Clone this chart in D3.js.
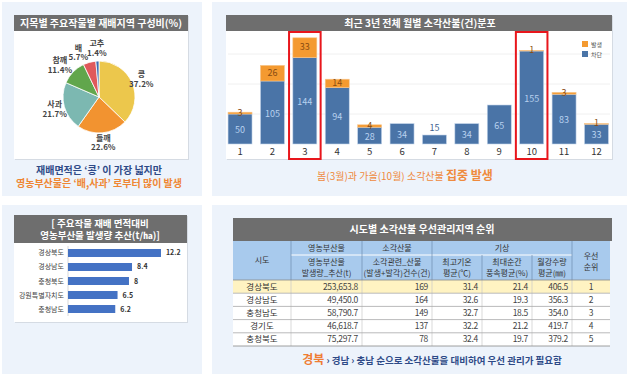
<!DOCTYPE html>
<html><head><meta charset="utf-8">
<script src="https://cdn.jsdelivr.net/npm/d3@7"></script>
<style>
body{margin:0;background:#fff;}
svg{display:block;font-family:"Noto Sans CJK KR","Noto Sans",sans-serif;}
</style></head>
<body><svg id="c" width="629" height="376"></svg>
<script>
// ---- data ----
const pieCrops = ["콩","들깨","사과","참깨","배","고추"];
const pieShares = [37.2,22.6,21.7,11.4,5.7,1.4];
const pieColors = ["#ecc74c","#f29330","#7cb8b1","#61a64c","#e0595b","#3d6db2"];

const months = ["1","2","3","4","5","6","7","8","9","10","11","12"];
const blocked = [50,105,144,94,28,34,15,34,65,155,83,33];   // 차단
const occurred = [3,26,33,14,4,0,0,0,0,1,3,1];              // 발생
const highlightMonths = ["3","10"];
const yTicks = [50,100,150];

const regions = ["경상북도","경상남도","충청북도","강원특별자치도","충청남도"];
const perArea = [12.2,8.4,8,6.5,6.2];

const tblRegions = ["경상북도","경상남도","충청남도","경기도","충청북도"];
const tblByproduct = ["253,653.8","49,450.0","58,790.7","46,618.7","75,297.7"];
const tblFires = ["169","164","149","137","78"];
const tblTemp = ["31.4","32.6","32.7","32.2","32.4"];
const tblWind = ["21.4","19.3","18.5","21.2","19.7"];
const tblRain = ["406.5","356.3","354.0","419.7","379.2"];
const tblRank = ["1","2","3","4","5"];

const svg = d3.select("#c");
const bg = "#edf3fb", bar="#6e6e6e";

// panels
[[2,2,200,194],[212,2,415,194],[2,205,200,169],[212,205,415,169]].forEach(p=>{
  svg.append("rect").attr("x",p[0]).attr("y",p[1]).attr("width",p[2]).attr("height",p[3]).attr("fill",bg);
});
function card(x,y,w,h){
  svg.append("rect").attr("x",x+1).attr("y",y+1).attr("width",w).attr("height",h).attr("fill","#d5dbe3");
  svg.append("rect").attr("x",x).attr("y",y).attr("width",w).attr("height",h).attr("fill","#fff");
}

// ===== Top-left pie =====
card(14,15,174,144);
svg.append("rect").attr("x",14).attr("y",15).attr("width",174).attr("height",16).attr("fill",bar);
svg.append("text").attr("x",101).attr("y",27).attr("text-anchor","middle").attr("fill","#fff")
  .attr("font-size",10).attr("font-weight","bold").text("지목별 주요작물별 재배지역 구성비(%)");

const pieData = d3.pie().sort(null).value(d=>d)(pieShares);
const arc = d3.arc().innerRadius(0).outerRadius(36);
const pg = svg.append("g").attr("transform","translate(99,97)");
pg.selectAll("path").data(pieData).join("path").attr("d",arc)
  .attr("fill",(d,i)=>pieColors[i]).attr("stroke","#fff").attr("stroke-width",0.8);
// label positions: outside the slice, tiny slices pushed a bit further, then simple collision pass
const labPos = pieData.map((d,i)=>{
  const r = pieShares[i] < 3 ? 49 : 46;
  const c = d3.arc().innerRadius(r).outerRadius(r).centroid(d);
  return {x:c[0], y:c[1]};
});
for(let i=labPos.length-1;i>0;i--){
  const a=labPos[i], b=labPos[i-1];
  if(Math.abs(a.y-b.y)<18 && Math.abs(a.x-b.x)<18.5) b.x = a.x-18.5;
}
pieData.forEach((d,i)=>{
  const {x:cx,y:cy}=labPos[i];
  const t = pg.append("text").attr("text-anchor","middle").attr("font-size",8).attr("font-weight","bold").attr("fill","#444");
  t.append("tspan").attr("x",cx).attr("y",cy-2).text(pieCrops[i]);
  t.append("tspan").attr("x",cx).attr("y",cy+7.5).text(pieShares[i].toFixed(1)+"%");
});
svg.append("text").attr("x",99).attr("y",174).attr("text-anchor","middle").attr("font-size",10).attr("font-weight","bold")
  .attr("fill","#2e4a87").text("재배면적은  ‘콩’ 이 가장 넓지만");
svg.append("text").attr("x",99).attr("y",187).attr("text-anchor","middle").attr("font-size",10).attr("font-weight","bold")
  .attr("fill","#ef8633").text("영농부산물은  ‘배,사과’ 로부터 많이 발생");

// ===== Top-right stacked bars =====
card(226,15,386,144);
const x = d3.scaleBand().domain(months).range([224.8,611.7]).paddingInner(0.26).paddingOuter(0.1);
const y = d3.scaleLinear().domain([0,200]).range([144,24]);
svg.append("g").selectAll("line").data(yTicks).join("line")
  .attr("x1",228).attr("x2",610).attr("y1",d=>y(d)).attr("y2",d=>y(d)).attr("stroke","#f0f0f0");
svg.append("rect").attr("x",226).attr("y",15).attr("width",386).attr("height",16).attr("fill",bar);
svg.append("text").attr("x",420).attr("y",27).attr("text-anchor","middle").attr("fill","#fff")
  .attr("font-size",10).attr("font-weight","bold").text("최근 3년 전체 월별 소각산불(건)분포");

const bars = svg.append("g");
months.forEach((m,i)=>{
  const b=blocked[i], o=occurred[i];
  bars.append("rect").attr("x",x(m)).attr("y",y(b)).attr("width",x.bandwidth()).attr("height",y(0)-y(b))
    .attr("fill","#4a74a7").attr("stroke","#c4d5ea").attr("stroke-width",0.6);
  if(o>0) bars.append("rect").attr("x",x(m)).attr("y",y(b+o)).attr("width",x.bandwidth()).attr("height",y(b)-y(b+o))
    .attr("fill","#f49a30").attr("stroke","#f7c58c").attr("stroke-width",0.6);
  const cx = x(m)+x.bandwidth()/2;
  const h = y(0)-y(b);
  if(h>14) bars.append("text").attr("x",cx).attr("y",(y(0)+y(b))/2+4).attr("text-anchor","middle")
    .attr("font-size",9).attr("fill","#b8d1ef").text(b);
  else bars.append("text").attr("x",cx).attr("y",y(b)-4).attr("text-anchor","middle")
    .attr("font-size",9).attr("fill","#3d5f8f").text(b);
  if(o>0) bars.append("text").attr("x",cx).attr("y",(y(b)+y(b+o))/2+2.5).attr("text-anchor","middle")
    .attr("font-size",9).attr("fill","#8a4d12").text(o);
  bars.append("text").attr("x",cx).attr("y",155).attr("text-anchor","middle").attr("font-size",9.5).attr("fill","#333").text(m);
});
highlightMonths.forEach(m=>{
  svg.append("rect").attr("x",x(m)-3.8).attr("y",32).attr("width",x.bandwidth()+7.6).attr("height",127)
    .attr("fill","none").attr("stroke","#e8161c").attr("stroke-width",2);
});
[["발생","#f49a30",41],["차단","#4a74a7",51]].forEach(l=>{
  svg.append("rect").attr("x",582).attr("y",l[2]).attr("width",6).attr("height",6).attr("fill",l[1]);
  svg.append("text").attr("x",591).attr("y",l[2]+5.5).attr("font-size",6).attr("fill","#555").text(l[0]);
});
const cap2 = svg.append("text").attr("x",405).attr("y",180).attr("text-anchor","middle").attr("fill","#ef8a3d");
cap2.append("tspan").attr("font-size",10).text("봄(3월)과 가을(10월) 소각산불 ");
cap2.append("tspan").attr("font-size",12).attr("font-weight","bold").text("집중 발생");

// ===== Bottom-left horizontal bars =====
card(14,215,173,107);
svg.append("rect").attr("x",14).attr("y",215).attr("width",173).attr("height",28).attr("fill",bar);
const t3 = svg.append("text").attr("text-anchor","middle").attr("fill","#fff").attr("font-size",9.5).attr("font-weight","bold");
t3.append("tspan").attr("x",100).attr("y",227).text("[ 주요작물 재배 면적대비");
t3.append("tspan").attr("x",100).attr("y",239).text("영농부산물 발생량 추산(t/㏊)]");
const hx = d3.scaleLinear().domain([0,14]).range([68,174.7]);
const hy = d3.scaleBand().domain(regions).range([249,313]).paddingInner(0.43).paddingOuter(0);
svg.append("line").attr("x1",68).attr("x2",68).attr("y1",246).attr("y2",316).attr("stroke","#d9d9d9");
regions.forEach((r,i)=>{
  svg.append("rect").attr("x",hx(0)).attr("y",hy(r)).attr("width",hx(perArea[i])-hx(0)).attr("height",hy.bandwidth()).attr("fill","#4472c4");
  svg.append("text").attr("x",64).attr("y",hy(r)+hy.bandwidth()/2+2.5).attr("text-anchor","end").attr("font-size",7).attr("fill","#444").text(r);
  svg.append("text").attr("x",hx(perArea[i])+5).attr("y",hy(r)+hy.bandwidth()/2+2.5).attr("font-size",7).attr("font-weight","bold").attr("fill","#333").text(perArea[i]);
});

// ===== Bottom-right table =====
const cx = [233,291,362,432,482,532,572,610];
const ry = [280,293.2,306.4,319.6,332.8,346];
svg.append("rect").attr("x",233).attr("y",218).attr("width",379).attr("height",23).attr("fill",bar);
svg.append("text").attr("x",422).attr("y",233).attr("text-anchor","middle").attr("fill","#fff").attr("font-size",10).attr("font-weight","bold").text("시도별 소각산불 우선관리지역 순위");
svg.append("rect").attr("x",233).attr("y",241).attr("width",377).attr("height",39).attr("fill","#a8caed");
svg.append("rect").attr("x",233).attr("y",ry[0]).attr("width",377).attr("height",ry[1]-ry[0]).attr("fill","#fff3c2");
for(let i=1;i<5;i++) svg.append("rect").attr("x",233).attr("y",ry[i]).attr("width",377).attr("height",ry[i+1]-ry[i]).attr("fill","#fff");
// header lines
svg.append("line").attr("x1",cx[1]).attr("x2",cx[6]).attr("y1",255).attr("y2",255).attr("stroke","#fff").attr("stroke-width",1);
[1,2,3,6].forEach(j=>svg.append("line").attr("x1",cx[j]).attr("x2",cx[j]).attr("y1",241).attr("y2",280).attr("stroke","#6d8db0").attr("stroke-width",0.7));
[4,5].forEach(j=>svg.append("line").attr("x1",cx[j]).attr("x2",cx[j]).attr("y1",255).attr("y2",280).attr("stroke","#6d8db0").attr("stroke-width",0.7));
for(let j=1;j<7;j++) svg.append("line").attr("x1",cx[j]).attr("x2",cx[j]).attr("y1",280).attr("y2",346).attr("stroke","#c9c9c9").attr("stroke-width",0.7);
ry.forEach((yy,i)=>svg.append("line").attr("x1",233).attr("x2",610).attr("y1",yy).attr("y2",yy).attr("stroke",i===0||i===5?"#888":"#aaa").attr("stroke-width",0.8));
function htext(xc,y1,lines){
  const t=svg.append("text").attr("text-anchor","middle").attr("font-size",8).attr("fill","#333");
  lines.forEach((l,k)=>t.append("tspan").attr("x",xc).attr("y",y1+k*11).text(l));
}
htext((cx[0]+cx[1])/2,263,["시도"]);
htext((cx[1]+cx[2])/2,251,["영농부산물"]);
htext((cx[2]+cx[3])/2,251,["소각산불"]);
htext((cx[3]+cx[6])/2,251,["기상"]);
htext((cx[6]+cx[7])/2,259,["우선","순위"]);
htext((cx[1]+cx[2])/2,265,["영농부산물","발생량_추산(t)"]);
htext((cx[2]+cx[3])/2,265,["소각관련_산불","(발생+발각)건수(건)"]);
htext((cx[3]+cx[4])/2,265,["최고기온","평균(℃)"]);
htext((cx[4]+cx[5])/2,265,["최대순간","풍속평균(%)"]);
htext((cx[5]+cx[6])/2,265,["월강수량","평균(㎜)"]);
const cols=[tblByproduct,tblFires,tblTemp,tblWind,tblRain];
tblRegions.forEach((r,i)=>{
  const yy=(ry[i]+ry[i+1])/2+3;
  svg.append("text").attr("x",(cx[0]+cx[1])/2).attr("y",yy).attr("text-anchor","middle").attr("font-size",8.5).attr("fill","#333").text(r);
  cols.forEach((c,j)=>svg.append("text").attr("x",cx[j+2]-4).attr("y",yy).attr("text-anchor","end").attr("font-size",8.5).attr("fill","#444").attr("letter-spacing",-0.3).text(c[i]));
  svg.append("text").attr("x",(cx[6]+cx[7])/2).attr("y",yy).attr("text-anchor","middle").attr("font-size",8.5).attr("fill","#444").text(tblRank[i]);
});
const cap4=svg.append("text").attr("x",432).attr("y",364).attr("text-anchor","middle").attr("font-weight","bold");
cap4.append("tspan").attr("font-size",12).attr("fill","#ef7d33").text("경북");
cap4.append("tspan").attr("font-size",9.5).attr("fill","#2e4a87").text(" › 경남 › 충남 순으로 소각산불을 대비하여 우선 관리가 필요함");
</script></body></html>
